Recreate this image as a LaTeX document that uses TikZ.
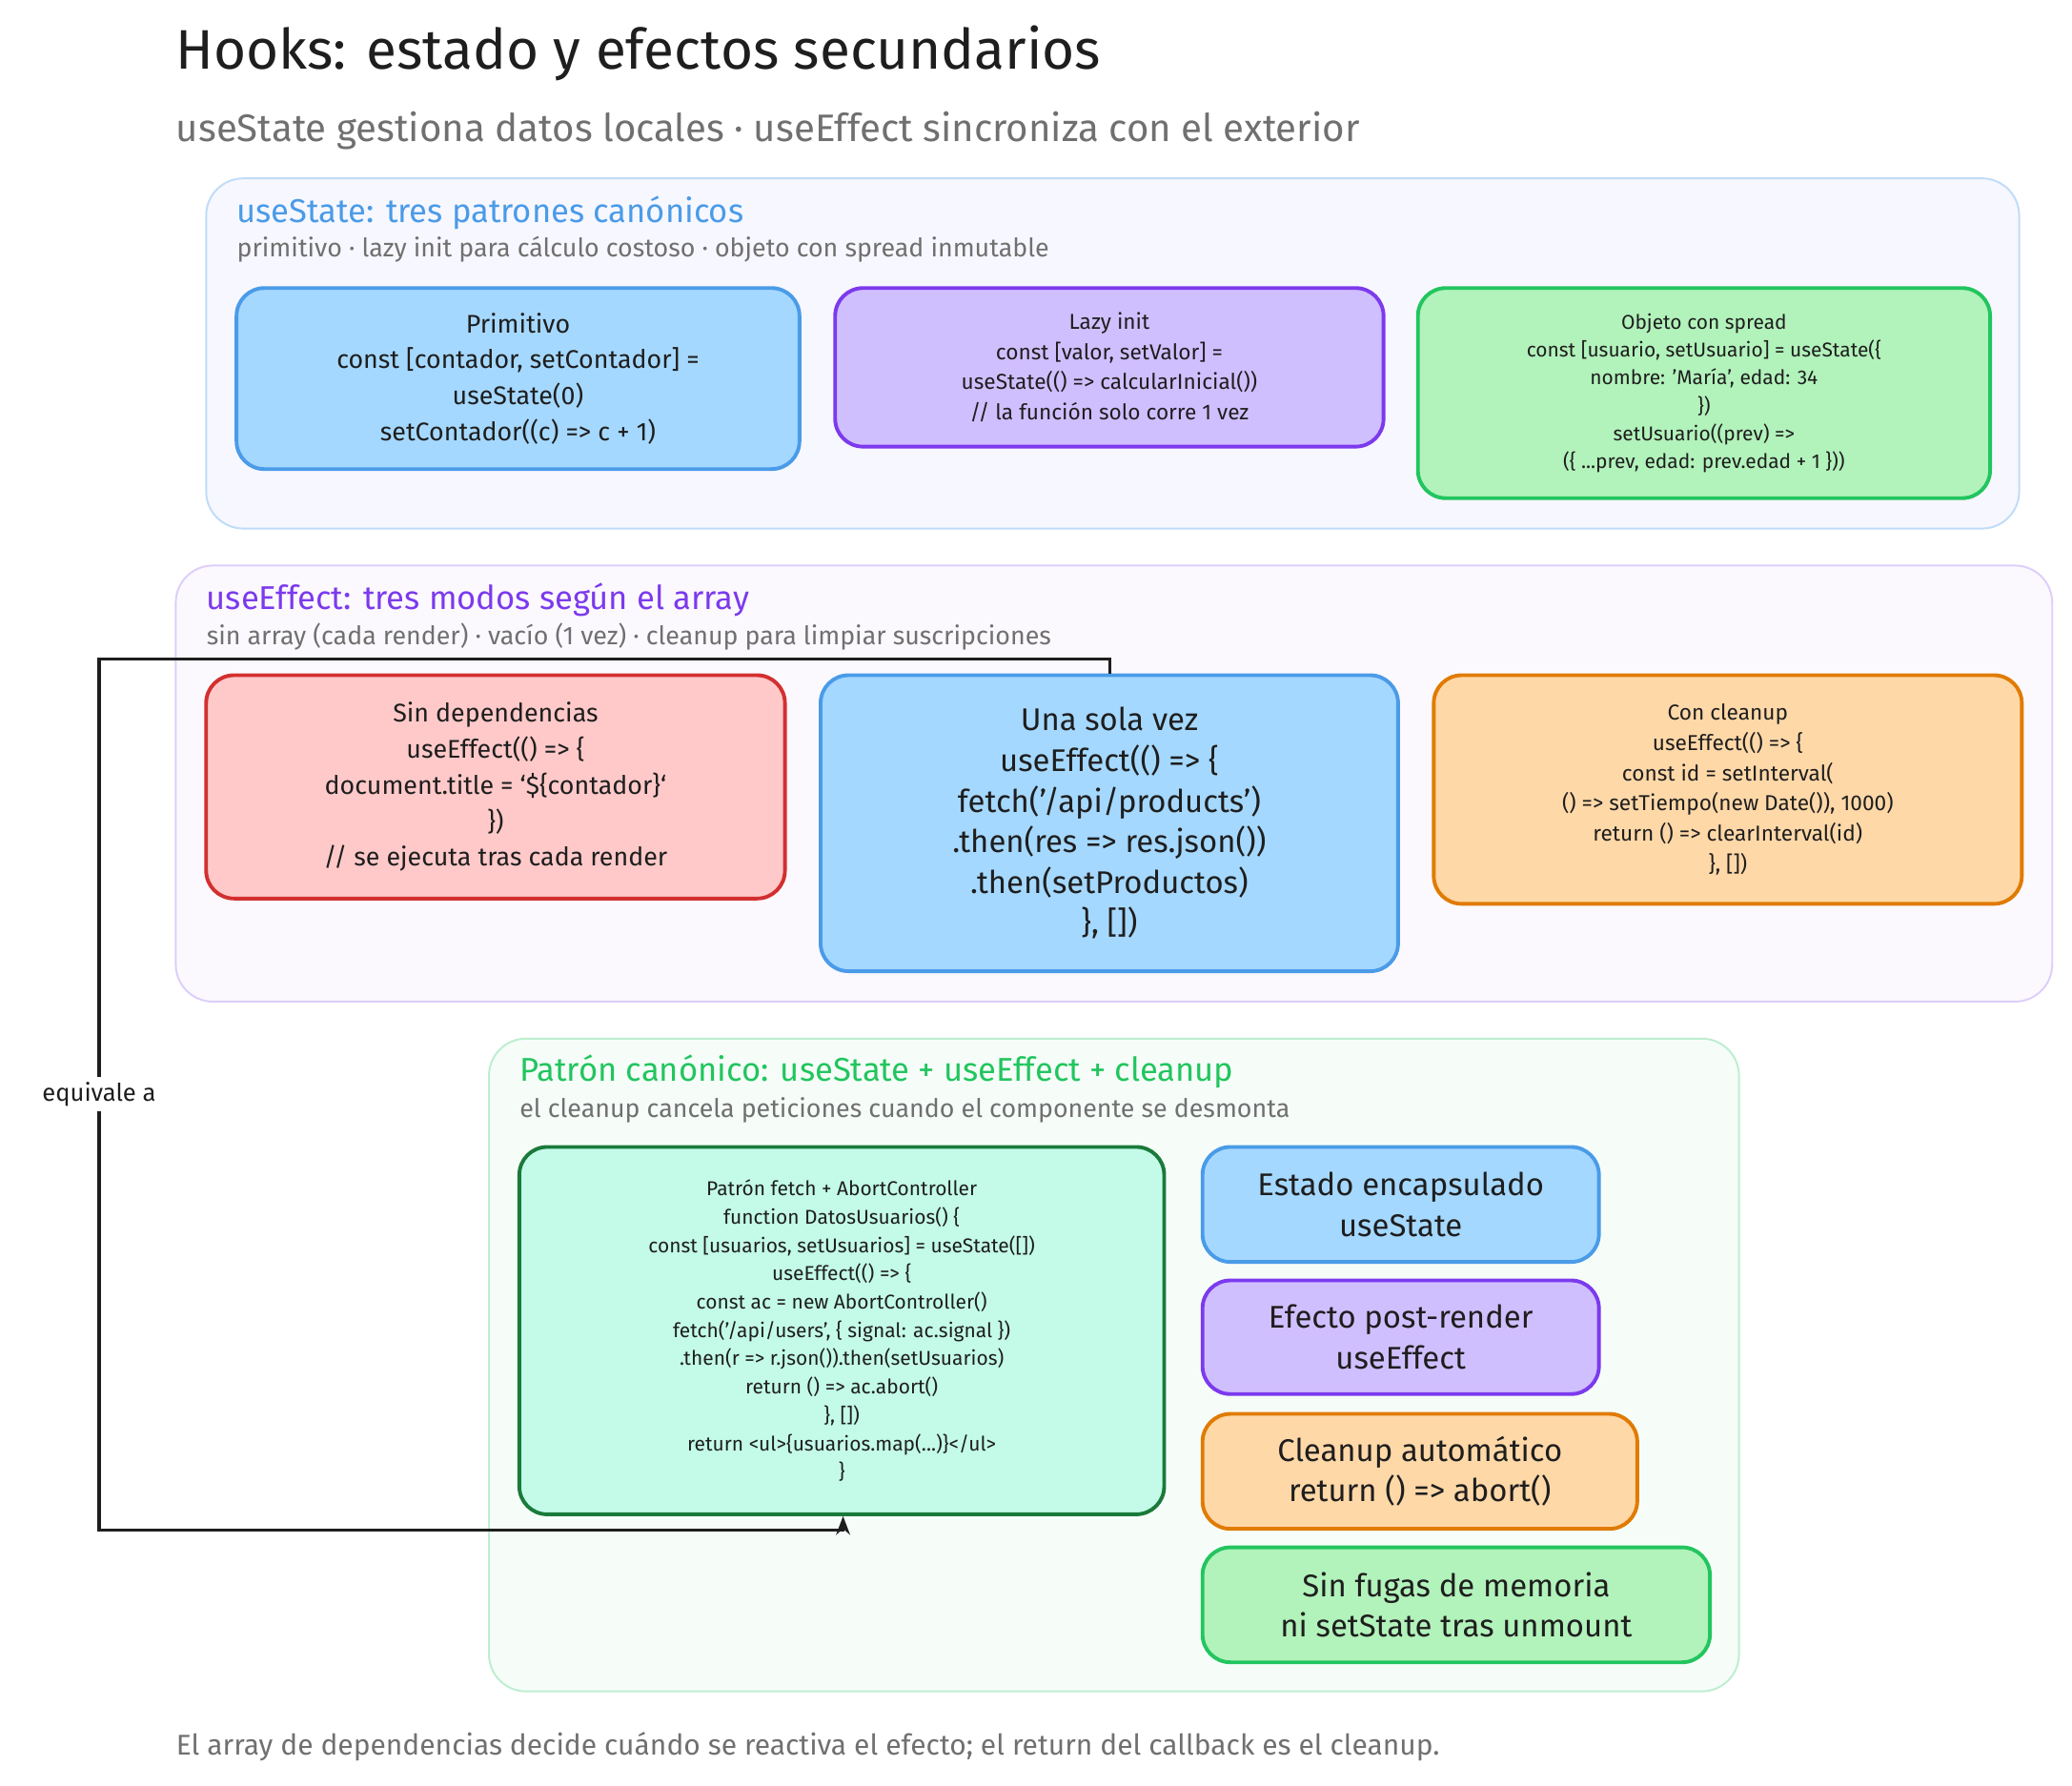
\documentclass[tikz,border=0pt]{standalone}
\usepackage{fontspec}
\setmainfont{Fira Sans}
\usetikzlibrary{arrows.meta}
\definecolor{blueF}{HTML}{A5D8FF}\definecolor{blueS}{HTML}{4A9BE8}
\definecolor{purF}{HTML}{D0BFFF}\definecolor{purS}{HTML}{7C3AED}
\definecolor{grnF}{HTML}{B2F2BB}\definecolor{grnS}{HTML}{22C55E}
\definecolor{redF}{HTML}{FFC9C9}\definecolor{redS}{HTML}{D32F2F}
\definecolor{orF}{HTML}{FFD8A8}\definecolor{orS}{HTML}{E07B00}
\definecolor{tealF}{HTML}{C3FAE8}\definecolor{tealS}{HTML}{1A7A3A}
\definecolor{txt}{HTML}{1E1E1E}\definecolor{gr}{HTML}{707070}
\tikzset{
 box/.style={draw, line width=1.6pt, rounded corners=12pt, align=center, inner sep=4pt, text=txt},
 grp/.style={draw, line width=0.8pt, rounded corners=16pt},
 gtitle/.style={anchor=west, font=\fontsize{14.2}{16}\selectfont, inner sep=0},
 gsub/.style={anchor=west, font=\fontsize{11}{13}\selectfont, text=gr, inner sep=0},
 conn/.style={draw=txt, line width=1.3pt, -{Stealth[length=8pt]}},
}
\newcommand{\bx}[7]{\node[box,#6, minimum width={(#4-#2)*0.02cm}, minimum height={(#5-#3)*0.02cm}] (#1) at ({(#2+#4)/2*0.02cm},{-(#3+#5)/2*0.02cm}) {#7};}
\newcommand{\gp}[6]{\node[grp,#6, minimum width={(#4-#2)*0.02cm}, minimum height={(#5-#3)*0.02cm}] (#1) at ({(#2+#4)/2*0.02cm},{-(#3+#5)/2*0.02cm}) {};}
\begin{document}
\begin{tikzpicture}[x=0.02cm,y=-0.02cm]
\useasboundingbox[fill=white] (0,0) rectangle (1568,1351);
\node[anchor=west,font=\fontsize{24}{28}\selectfont,text=txt,inner sep=0] (title) at (133,40) {Hooks: estado y efectos secundarios};
\node[anchor=west,font=\fontsize{16.5}{19}\selectfont,text=gr,inner sep=0] (sub) at (133,99) {useState gestiona datos locales · useEffect sincroniza con el exterior};
% group 1
\gp{g1}{156}{135}{1528}{400}{fill=blue!3, draw=blueS!35}
\node[gtitle,text=blueS] (g1t) at (179,161) {useState: tres patrones canónicos};
\node[gsub] (g1s) at (179,189) {primitivo · lazy init para cálculo costoso · objeto con spread inmutable};
\bx{prim}{179}{218}{605}{355}{fill=blueF,draw=blueS,font=\fontsize{11}{15.5}\selectfont}{Primitivo\\const [contador, setContador] =\\useState(0)\\setContador((c) => c + 1)}
\bx{lazy}{632}{218}{1047}{338}{fill=purF,draw=purS,font=\fontsize{9.3}{13}\selectfont}{Lazy init\\const [valor, setValor] =\\useState(() => calcularInicial())\\// la función solo corre 1 vez}
\bx{obj}{1073}{218}{1506}{377}{fill=grnF,draw=grnS,font=\fontsize{8.6}{12}\selectfont}{Objeto con spread\\const [usuario, setUsuario] = useState(\{\\nombre: 'María', edad: 34\\\})\\setUsuario((prev) =>\\(\{ ...prev, edad: prev.edad + 1 \}))}
% group 2
\gp{g2}{133}{428}{1553}{758}{fill=purS!3, draw=purS!25}
\node[gtitle,text=purS] (g2t) at (156,454) {useEffect: tres modos según el array};
\node[gsub] (g2s) at (156,482) {sin array (cada render) · vacío (1 vez) · cleanup para limpiar suscripciones};
\bx{sin}{156}{511}{594}{680}{fill=redF,draw=redS,font=\fontsize{11}{15.5}\selectfont}{Sin dependencias\\useEffect(() => \{\\document.title = `\$\{contador\}`\\\})\\// se ejecuta tras cada render}
\bx{una}{621}{511}{1058}{735}{fill=blueF,draw=blueS,font=\fontsize{13.5}{17.5}\selectfont}{Una sola vez\\useEffect(() => \{\\fetch('/api/products')\\.then(res => res.json())\\.then(setProductos)\\\}, [])}
\bx{con}{1085}{511}{1530}{684}{fill=orF,draw=orS,font=\fontsize{9.3}{13}\selectfont}{Con cleanup\\useEffect(() => \{\\const id = setInterval(\\() => setTiempo(new Date()), 1000)\\return () => clearInterval(id)\\\}, [])}
% group 3
\gp{g3}{370}{786}{1316}{1280}{fill=grnS!4, draw=grnS!30}
\node[gtitle,text=grnS] (g3t) at (393,811) {Patrón canónico: useState + useEffect + cleanup};
\node[gsub] (g3s) at (393,840) {el cleanup cancela peticiones cuando el componente se desmonta};
\bx{fetch}{393}{868}{881}{1146}{fill=tealF,draw=tealS,font=\fontsize{8.6}{12.2}\selectfont}{Patrón fetch + AbortController\\function DatosUsuarios() \{\\const [usuarios, setUsuarios] = useState([])\\useEffect(() => \{\\const ac = new AbortController()\\fetch('/api/users', \{ signal: ac.signal \})\\.then(r => r.json()).then(setUsuarios)\\return () => ac.abort()\\\}, [])\\return <ul>\{usuarios.map(...)\}</ul>\\\}}
\bx{est}{910}{868}{1210}{955}{fill=blueF,draw=blueS,font=\fontsize{13.5}{17.5}\selectfont}{Estado encapsulado\\useState}
\bx{efe}{910}{969}{1210}{1055}{fill=purF,draw=purS,font=\fontsize{13.5}{17.5}\selectfont}{Efecto post-render\\useEffect}
\bx{cle}{910}{1070}{1239}{1157}{fill=orF,draw=orS,font=\fontsize{13.5}{17.5}\selectfont}{Cleanup automático\\return () => abort()}
\bx{fug}{910}{1171}{1294}{1258}{fill=grnF,draw=grnS,font=\fontsize{13.5}{17.5}\selectfont}{Sin fugas de memoria\\ni setState tras unmount}
% connector
\coordinate (c1) at (840,499);
\coordinate (c2) at (75,499);
\coordinate (c3) at (75,1158);
\coordinate (c4) at (638,1158);
\draw[conn] (una.north -| c1) -- (c1) -- (c2) -- (c3) -- (c4) -- (fetch.south -| c4);
\node[fill=white,font=\fontsize{10.5}{12}\selectfont,text=txt,inner sep=2pt] (lbl) at (75,828) {equivale a};
\node[anchor=west,font=\fontsize{12.3}{14}\selectfont,text=gr,inner sep=0] (foot) at (133,1322) {El array de dependencias decide cuándo se reactiva el efecto; el return del callback es el cleanup.};
\end{tikzpicture}
\end{document}
